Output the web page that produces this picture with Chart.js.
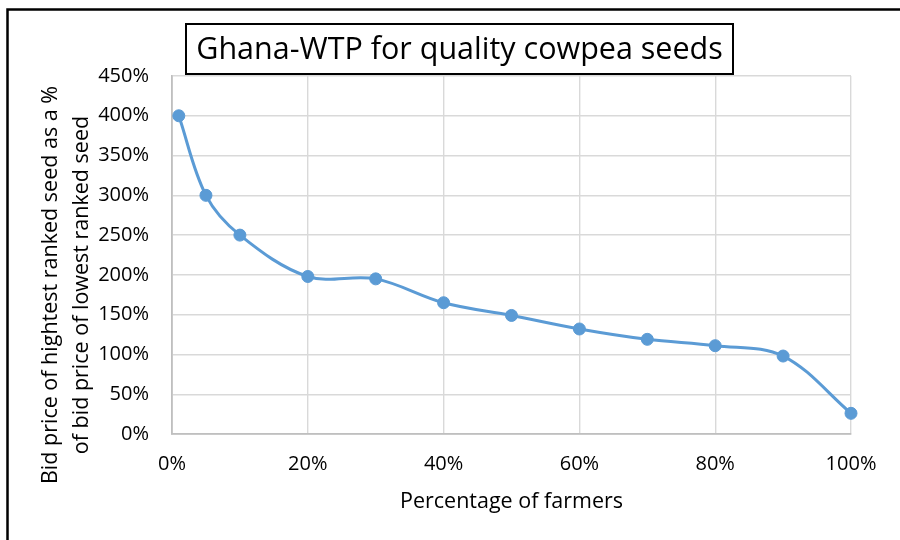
<!DOCTYPE html>
<html>
<head>
<meta charset="utf-8">
<script src="https://cdn.jsdelivr.net/npm/chart.js@4.4.1/dist/chart.umd.min.js"></script>
<style>
  html, body { margin: 0; padding: 0; background: #fff; }
  #wrap { width: 900px; height: 540px; }
</style>
</head>
<body>
<div id="wrap"><canvas id="chartWtp" width="900" height="540"></canvas></div>
<script>
const BLUE = "#5b9bd5", GRID = "#d9d9d9", AXIS = "#bfbfbf", INK = "#000";
const FONT = "'Open Sans', 'Noto Sans', sans-serif";

// percentage of farmers (x) and bid ratio in % (y)
const farmersPct = [1, 5, 10, 20, 30, 40, 50, 60, 70, 80, 90, 100];
const bidRatio = [400, 300, 250, 198, 195, 165, 149, 132, 119, 111, 98, 26];

const titleText = "Ghana-WTP for quality cowpea seeds";
const xTitle = "Percentage of farmers";
const yTitle = ["Bid price of hightest ranked seed as a %", "of bid price of lowest ranked seed"];

const decor = {
    id: "decor",
    beforeDraw(chart) {
        const c = chart.ctx;
        c.save();
        c.fillStyle = "#fff";
        c.fillRect(0, 0, chart.width, chart.height);
        c.restore();
    },
    afterDraw(chart) {
        const c = chart.ctx;
        const area = chart.chartArea;
        c.save();
        // outer frame (cropped on right and bottom)
        c.strokeStyle = INK;
        c.lineWidth = 2.5;
        c.beginPath();
        c.moveTo(7.5, 560);
        c.lineTo(7.5, 9.5);
        c.lineTo(920, 9.5);
        c.stroke();

        // boxed title
        c.fillStyle = "#fff";
        c.fillRect(186, 24, 547, 50);
        c.lineWidth = 2;
        c.strokeRect(186, 24, 547, 50);
        c.fillStyle = INK;
        c.font = "30.5px " + FONT;
        c.textAlign = "center";
        c.textBaseline = "middle";
        c.fillText(titleText, 459.5, 50);

        // axis titles
        c.font = "21.5px " + FONT;
        c.textBaseline = "alphabetic";
        c.fillText(xTitle, (area.left + area.right) / 2, 508);
        const cy = 285;
        [57, 88].forEach((bx, i) => {
            c.save();
            c.translate(bx, cy);
            c.rotate(-Math.PI / 2);
            c.fillText(yTitle[i], 0, 0);
            c.restore();
        });
        c.restore();
    }
};

const tickFont = {family: FONT, size: 20};

new Chart(document.getElementById("chartWtp"), {
    type: "line",
    data: {
        datasets: [{
            data: farmersPct.map((x, i) => ({x: x, y: bidRatio[i]})),
            borderColor: BLUE,
            backgroundColor: BLUE,
            borderWidth: 3,
            tension: 0.35,
            pointRadius: 6,
            pointBorderWidth: 1,
            pointBackgroundColor: BLUE,
            pointBorderColor: BLUE,
            clip: false,
        }],
    },
    options: {
        responsive: false,
        animation: false,
        devicePixelRatio: 1,
        layout: {padding: {left: 0, top: 76, right: 49, bottom: 0}},
        plugins: {legend: {display: false}, tooltip: {enabled: false}},
        scales: {
            x: {
                type: "linear",
                min: 0,
                max: 100,
                afterFit: s => { s.height = 106; },
                grid: {color: GRID, lineWidth: 1.4, drawTicks: false},
                border: {color: AXIS, width: 1.8},
                ticks: {stepSize: 20, color: INK, font: tickFont, padding: 18, maxRotation: 0,
                    callback: v => v + "%"},
            },
            y: {
                min: 0,
                max: 450,
                afterFit: s => { s.width = 172; },
                grid: {color: GRID, lineWidth: 1.4, drawTicks: false},
                border: {color: AXIS, width: 1.8},
                ticks: {stepSize: 50, color: INK, font: tickFont, padding: 23,
                    callback: v => v + "%"},
            },
        },
    },
    plugins: [decor],
});
</script>
</body>
</html>
